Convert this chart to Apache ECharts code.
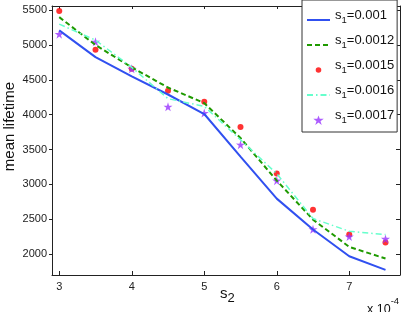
<!DOCTYPE html>
<html>
<head>
<meta charset="utf-8">
<script src="https://cdn.jsdelivr.net/npm/echarts@6/dist/echarts.min.js"></script>
<style>
html,body{margin:0;padding:0;background:#fff;}
#chart{width:407px;height:312px;}
</style>
</head>
<body>
<div id="chart"></div>
<script>
// ---- data (x in units of 1e-4) ----
var s2Values = [3, 3.5, 4, 4.5, 5, 5.5, 6, 6.5, 7, 7.5];
var life_s1_0010 = [5210, 4826, 4549, 4290, 4010, 3400, 2796, 2352, 1969, 1774];
var life_s1_0012 = [5400, 5000, 4680, 4390, 4167, 3666, 3055, 2495, 2104, 1936];
var life_s1_0015 = [5490, 4931, 4660, 4343, 4186, 3823, 3158, 2638, 2280, 2165];
var life_s1_0016 = [5300, 5070, 4680, 4230, 4120, 3640, 3154, 2510, 2328, 2280];
var life_s1_0017 = [5156, 5046, 4659, 4114, 4024, 3570, 3054, 2356, 2251, 2218];
var seriesNames = ['0.001', '0.0012', '0.0015', '0.0016', '0.0017'];
var xTicks = [3, 4, 5, 6, 7];
var yTicks = [2000, 2500, 3000, 3500, 4000, 4500, 5000, 5500];

function pairs(ys) { return s2Values.map(function (x, i) { return [x, ys[i]]; }); }

var FONT = 'Liberation Sans';
var STAR = 'path://M0,-10L2.23,-3.07L9.51,-3.09L3.61,1.17L5.88,8.09L0,3.8L-5.88,8.09L-3.61,1.17L-9.51,-3.09L-2.23,-3.07Z';
var BOX = 'M0,0L0.01,0M23,14L22.99,14';
var DOT_ICON = 'path://' + BOX + 'M14.3,7A2.8,2.8 0 1,1 8.7,7A2.8,2.8 0 1,1 14.3,7Z';
var STAR_ICON = 'path://' + BOX + 'M11.5,2.4L12.73,5.81L16.73,5.8L13.49,8.14L14.73,11.95L11.5,9.59L8.27,11.95L9.51,8.14L6.27,5.8L10.27,5.81Z';

var chart = echarts.init(document.getElementById('chart'), null, {renderer: 'canvas'});

var axisLineStyle = {color: '#222', width: 1};
var option = {
  animation: false,
  backgroundColor: '#fff',
  grid: {left: 52, right: 7, top: 6, bottom: 37, containLabel: false},
  xAxis: [{
    type: 'value', position: 'bottom', min: 2.9, max: 7.7,
    axisLine: {show: true, onZero: false, lineStyle: axisLineStyle},
    axisTick: {show: true, inside: true, length: 4, customValues: xTicks, lineStyle: axisLineStyle},
    axisLabel: {show: true, customValues: xTicks, fontFamily: FONT, fontSize: 11, color: '#222', margin: 6,
      formatter: function (v) { return String(v); }},
    splitLine: {show: false}
  }, {
    type: 'value', position: 'top', min: 2.9, max: 7.7,
    axisLine: {show: true, onZero: false, lineStyle: axisLineStyle},
    axisTick: {show: true, inside: true, length: 3, customValues: xTicks, lineStyle: axisLineStyle},
    axisLabel: {show: false},
    splitLine: {show: false}
  }],
  yAxis: [{
    type: 'value', position: 'left', min: 1700, max: 5560,
    axisLine: {show: true, onZero: false, lineStyle: axisLineStyle},
    axisTick: {show: true, inside: false, length: 3, customValues: yTicks, lineStyle: axisLineStyle},
    axisLabel: {show: true, customValues: yTicks, fontFamily: FONT, fontSize: 11, color: '#222', margin: 5,
      formatter: function (v) { return String(v); }},
    splitLine: {show: false}
  }, {
    type: 'value', position: 'right', min: 1700, max: 5560,
    axisLine: {show: true, onZero: false, lineStyle: axisLineStyle},
    axisTick: {show: true, inside: true, length: 4, customValues: yTicks, lineStyle: axisLineStyle},
    axisLabel: {show: false},
    splitLine: {show: false}
  }],
  legend: {
    orient: 'vertical', left: 302, top: 0,
    padding: [9, 3, 1, 4],
    itemGap: 3, itemWidth: 23, itemHeight: 14,
    backgroundColor: '#fff', borderColor: '#333', borderWidth: 1, borderRadius: 0,
    selectedMode: false,
    data: [
      {name: seriesNames[0], itemStyle: {opacity: 0}},
      {name: seriesNames[1], itemStyle: {opacity: 0}},
      {name: seriesNames[2], icon: DOT_ICON},
      {name: seriesNames[3], itemStyle: {opacity: 0}},
      {name: seriesNames[4], icon: STAR_ICON}
    ],
    formatter: function (name) { return '{m|s}{sub|1}{m|=' + name + '}'; },
    textStyle: {
      fontFamily: FONT, color: '#111',
      rich: {
        m: {fontFamily: FONT, fontSize: 13, lineHeight: 13, padding: [0, 0, 9, 0], color: '#111'},
        sub: {fontFamily: FONT, fontSize: 9.5, lineHeight: 10, padding: [6.7, 0, 5.3, 0], color: '#111'}
      }
    }
  },
  series: [{
    name: seriesNames[0], type: 'line', data: pairs(life_s1_0010),
    symbol: 'none', showSymbol: false,
    lineStyle: {color: '#3050f0', width: 2, type: 'solid'},
    itemStyle: {color: '#3050f0'}
  }, {
    name: seriesNames[1], type: 'line', data: pairs(life_s1_0012),
    symbol: 'none', showSymbol: false,
    lineStyle: {color: '#1f9a00', width: 2, type: [5, 3]},
    itemStyle: {color: '#1f9a00'}
  }, {
    name: seriesNames[2], type: 'scatter', data: pairs(life_s1_0015),
    symbol: 'circle', symbolSize: 6,
    itemStyle: {color: '#ff0000'}
  }, {
    name: seriesNames[3], type: 'line', data: pairs(life_s1_0016),
    symbol: 'none', showSymbol: false,
    lineStyle: {color: '#66ffcc', width: 1.5, type: [6, 3, 1.5, 3]},
    itemStyle: {color: '#66ffcc'}
  }, {
    name: seriesNames[4], type: 'scatter', data: pairs(life_s1_0017),
    symbol: STAR, symbolSize: 9,
    itemStyle: {color: '#9933ff'}
  }],
  graphic: [{
    type: 'text', left: 2, top: 82, rotation: Math.PI / 2,
    style: {text: 'mean lifetime', fontFamily: FONT, fontSize: 15, fill: '#111'},
    x: 3, y: 171, position: null
  }, {
    type: 'text', left: 220, top: 286,
    style: {
      text: '{m|s}{sub|2}', fill: '#111',
      rich: {
        m: {fontFamily: FONT, fontSize: 15, lineHeight: 15, padding: [0, 0, 5, 0]},
        sub: {fontFamily: FONT, fontSize: 13, lineHeight: 13, padding: [6, 0, 1, 0]}
      }
    }
  }, {
    type: 'text', left: 367, top: 296,
    style: {
      text: '{m|x 10}{sup|-4}', fill: '#111',
      rich: {
        m: {fontFamily: FONT, fontSize: 12.5, lineHeight: 13, padding: [7, 0, 0, 0]},
        sup: {fontFamily: FONT, fontSize: 9.5, lineHeight: 10, padding: [0, 0, 10, 0]}
      }
    }
  }]
};
chart.setOption(option);
</script>
</body>
</html>
